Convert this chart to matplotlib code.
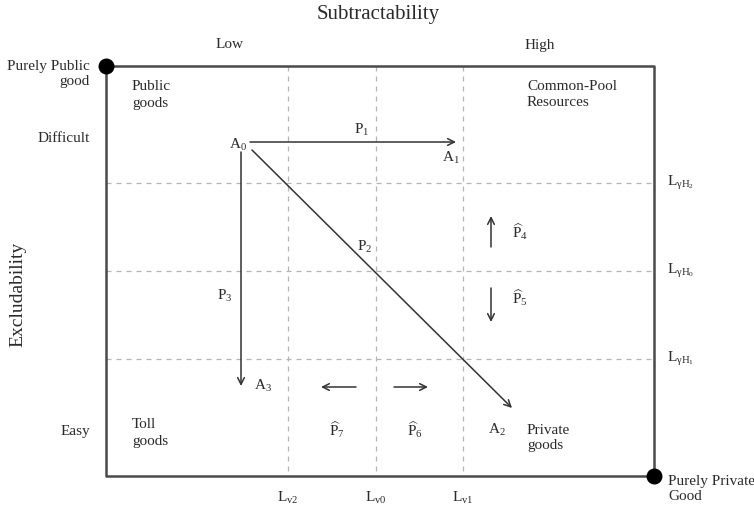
import matplotlib
matplotlib.use("Agg")
import matplotlib.pyplot as plt

plt.rcParams['font.family'] = ['Liberation Serif', 'DejaVu Serif']
plt.rcParams['mathtext.fontset'] = 'custom'
plt.rcParams['mathtext.rm'] = 'Liberation Serif'
plt.rcParams['mathtext.it'] = 'Liberation Serif'

# diagram geometry in pixel units of the 754x511 canvas
box_x = [106, 654]
box_y = [66, 476]
v_levels = [288, 376, 463]          # L_v2, L_v0, L_v1
v_labels = [r'L$_{\mathrm{v2}}$', r'L$_{\mathrm{v0}}$', r'L$_{\mathrm{v1}}$']
h_levels = [183, 271, 359]          # L_gammaH2, L_gammaH0, L_gammaH1
h_labels = [r'L$_{\gamma\mathrm{H}_2}$', r'L$_{\gamma\mathrm{H}_0}$', r'L$_{\gamma\mathrm{H}_1}$']

# movement arrows: (start, end)
path_arrows = [
    ((250, 142), (456, 142)),   # P1
    ((252, 150), (512, 408)),   # P2
    ((241, 152), (241, 386)),   # P3
    ((491, 247), (491, 216)),   # P4 hat
    ((491, 288), (491, 322)),   # P5 hat
    ((394, 387), (428, 387)),   # P6 hat
    ((356, 387), (321, 387)),   # P7 hat
]
path_labels = [
    ('P$_1$', 362, 130), ('P$_2$', 365, 247), ('P$_3$', 225, 296),
    (r'$\widehat{\mathrm{P}}_4$', 520, 232), (r'$\widehat{\mathrm{P}}_5$', 520, 298),
    (r'$\widehat{\mathrm{P}}_6$', 415, 430), (r'$\widehat{\mathrm{P}}_7$', 337, 430),
]
state_labels = [('A$_0$', 238, 145), ('A$_1$', 451, 158), ('A$_2$', 497, 430), ('A$_3$', 263, 386)]

quadrant_labels = [('Public\ngoods', 132, 95), ('Common-Pool\nResources', 527, 95),
                   ('Toll\ngoods', 132, 433), ('Private\ngoods', 527, 438)]

fig = plt.figure(figsize=(7.54, 5.11), dpi=100)
ax = fig.add_axes([0, 0, 1, 1])
ax.set_xlim(0, 754)
ax.set_ylim(511, 0)
ax.axis('off')

txt_col = '#2a2a2a'
dash_col = '#b5b5b5'
for x in v_levels:
    ax.plot([x, x], box_y, color=dash_col, lw=0.9, ls=(0, (4, 4)))
for y in h_levels:
    ax.plot(box_x, [y, y], color=dash_col, lw=0.9, ls=(0, (4, 4)))

# frame
ax.plot([box_x[0], box_x[1], box_x[1], box_x[0], box_x[0]],
        [box_y[0], box_y[0], box_y[1], box_y[1], box_y[0]], color='#4a4a4a', lw=1.8)
ax.scatter([box_x[0], box_x[1]], [box_y[0], box_y[1]], s=110, color='black', zorder=5)

for (x0, y0), (x1, y1) in path_arrows:
    ax.annotate('', xy=(x1, y1), xytext=(x0, y0),
                arrowprops=dict(arrowstyle='->', color='#333333', lw=1.1,
                                shrinkA=0, shrinkB=0, mutation_scale=12))

fs = 11
for t, x, y in path_labels:
    ax.text(x, y, t, fontsize=fs, ha='center', va='center', color=txt_col)
for t, x, y in state_labels:
    ax.text(x, y, t, fontsize=fs, ha='center', va='center', color=txt_col)
for t, x, y in quadrant_labels:
    ax.text(x, y, t, fontsize=fs, ha='left', va='center', color=txt_col, linespacing=1.3)

for t, x in zip(v_labels, v_levels):
    ax.text(x, 498, t, fontsize=fs, ha='center', va='center', color=txt_col)
for t, y in zip(h_labels, h_levels):
    ax.text(667, y, t, fontsize=fs, ha='left', va='center', color=txt_col)

ax.text(378, 14, 'Subtractability', fontsize=15, ha='center', va='center', color=txt_col)
ax.text(230, 45, 'Low', fontsize=fs, ha='center', va='center', color=txt_col)
ax.text(540, 45, 'High', fontsize=fs, ha='center', va='center', color=txt_col)
ax.text(18, 294, 'Excludability', fontsize=14, ha='center', va='center', rotation=90, color=txt_col)
ax.text(90, 74, 'Purely Public\ngood', fontsize=fs, ha='right', va='center',
        multialignment='right', linespacing=1.25, color=txt_col)
ax.text(90, 138, 'Difficult', fontsize=fs, ha='right', va='center', color=txt_col)
ax.text(90, 431, 'Easy', fontsize=fs, ha='right', va='center', color=txt_col)
ax.text(668, 489, 'Purely Private\nGood', fontsize=fs, ha='left', va='center',
        linespacing=1.25, color=txt_col)

fig.savefig('out.png', dpi=100)
